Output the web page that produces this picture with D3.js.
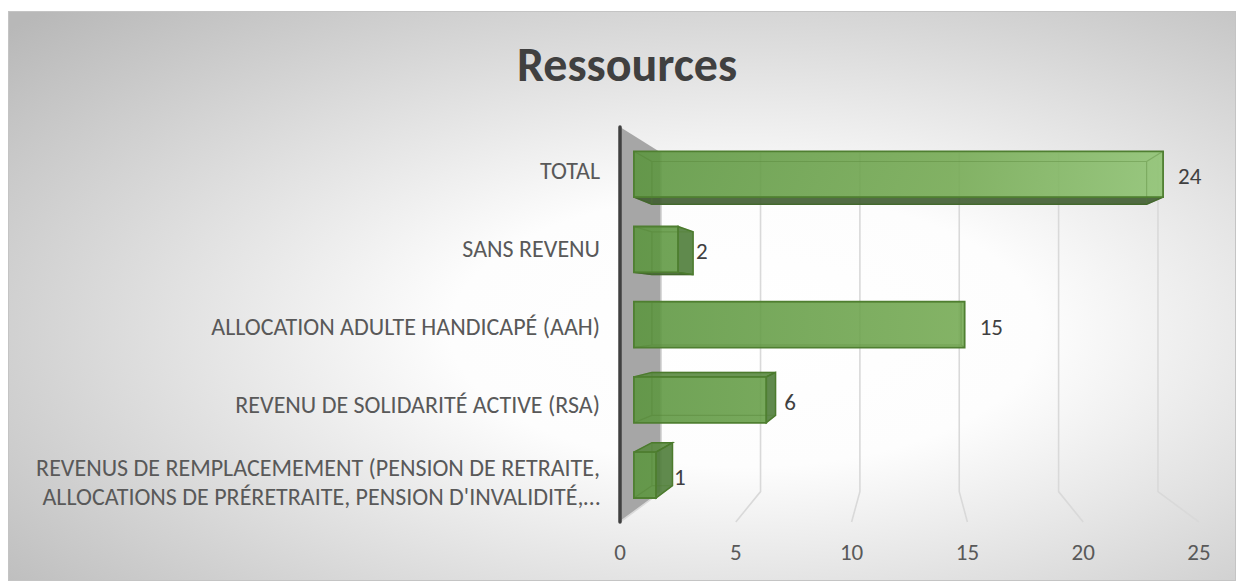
<!DOCTYPE html>
<html>
<head>
<meta charset="utf-8">
<script src="https://cdn.jsdelivr.net/npm/d3@7"></script>
<style>
  body { margin: 0; background: #fff; }
  svg { display: block; }
</style>
</head>
<body>
<div id="chart"></div>
<script>
// data
const categories = [
    ["TOTAL"],
    ["SANS REVENU"],
    ["ALLOCATION ADULTE HANDICAPÉ (AAH)"],
    ["REVENU DE SOLIDARITÉ ACTIVE (RSA)"],
    ["REVENUS DE REMPLACEMEMENT (PENSION DE RETRAITE,", "ALLOCATIONS DE PRÉRETRAITE, PENSION D'INVALIDITÉ,…"]
];
const values = [24, 2, 15, 6, 1];
const xTicks = [0, 5, 10, 15, 20, 25];
const title = "Ressources";

const W = 1236, H = 581;
const font = "Calibri, Carlito, Lato, sans-serif";

// perspective: vanishing point and scale factor of each depth plane
const vp = { x: 910, y: 308 };
const depth = { front: 1, barFront: 0.952, barBack: 0.89, back: 0.858 };
const plotTop = 127, plotBottom = 522;

function proj(px, py, s) {
    return [vp.x + (px - vp.x) * s, vp.y + (py - vp.y) * s];
}
function poly(pts) {
    return "M" + pts.map(p => p[0].toFixed(2) + "," + p[1].toFixed(2)).join("L") + "Z";
}

const svg = d3.select("#chart").append("svg")
    .attr("width", W)
    .attr("height", H);

const defs = svg.append("defs");

const bg = defs.append("radialGradient")
    .attr("id", "bg")
    .attr("cx", 0.6).attr("cy", 0.56).attr("r", 0.8);
bg.append("stop").attr("offset", 0).attr("stop-color", "#ffffff");
bg.append("stop").attr("offset", 0.3).attr("stop-color", "#fdfdfd");
bg.append("stop").attr("offset", 1).attr("stop-color", "#b8b8b8");

const x = d3.scaleLinear().domain([0, 25]).range([620, 1199]);
const y = d3.scaleBand()
    .domain(d3.range(categories.length))
    .range([plotTop + 1, plotBottom + 1])
    .paddingInner(0.39)
    .paddingOuter(0.195);

const barGrad = defs.append("linearGradient")
    .attr("id", "barGrad")
    .attr("gradientUnits", "userSpaceOnUse")
    .attr("x1", proj(x(0), 0, depth.barFront)[0]).attr("x2", proj(x(25), 0, depth.barFront)[0] - 25)
    .attr("y1", 0).attr("y2", 0);
barGrad.append("stop").attr("offset", 0).attr("stop-color", "#5b953e");
barGrad.append("stop").attr("offset", 0.6).attr("stop-color", "#72a850");
barGrad.append("stop").attr("offset", 1).attr("stop-color", "#8dc270");

// chart area
svg.append("rect")
    .attr("x", 8.5).attr("y", 11.5)
    .attr("width", W - 9).attr("height", H - 12)
    .attr("fill", "url(#bg)")
    .attr("stroke", "#c4c4c4");

svg.append("text")
    .attr("x", 627).attr("y", 81)
    .attr("text-anchor", "middle")
    .attr("font-family", font)
    .attr("font-weight", "bold")
    .attr("font-size", 48)
    .attr("fill", "#404040")
    .text(title);

// side wall at x = 0
svg.append("path")
    .attr("d", poly([
        proj(x(0), plotTop, depth.front),
        proj(x(0), plotTop, depth.back),
        proj(x(0), plotBottom, depth.back),
        proj(x(0), plotBottom, depth.front)
    ]))
    .attr("fill", "#a6a6a6");

// gridlines on back wall + floor
svg.append("g").selectAll("path")
    .data(xTicks)
    .join("path")
    .attr("d", t => {
        const a = proj(x(t), plotTop, depth.back);
        const b = proj(x(t), plotBottom, depth.back);
        const c = proj(x(t), plotBottom, depth.front);
        return "M" + a + "L" + b + "L" + c;
    })
    .attr("fill", "none")
    .attr("stroke", "#d9d9d9")
    .attr("stroke-width", 1.6);

svg.append("line")
    .attr("x1", x(0)).attr("x2", x(0))
    .attr("y1", plotTop).attr("y2", plotBottom)
    .attr("stroke", "#404040")
    .attr("stroke-width", 3.5)
    .attr("stroke-linecap", "round");

// bars as boxes
const bars = svg.append("g");
values.forEach((v, i) => {
    const x0 = x(0), x1 = x(v);
    const y0 = y(i), y1 = y(i) + y.bandwidth();
    const f = [proj(x0, y0, depth.barFront), proj(x1, y0, depth.barFront),
               proj(x1, y1, depth.barFront), proj(x0, y1, depth.barFront)];
    const b = [proj(x0, y0, depth.barBack), proj(x1, y0, depth.barBack),
               proj(x1, y1, depth.barBack), proj(x0, y1, depth.barBack)];
    const g = bars.append("g");

    if (y1 < vp.y) {
        g.append("path").attr("d", poly([f[3], f[2], b[2], b[3]]))
            .attr("fill", "#3f5c30").attr("fill-opacity", 0.9)
            .attr("stroke", "#3d5e2a").attr("stroke-width", 1.2);
    }
    if (y0 > vp.y) {
        g.append("path").attr("d", poly([f[0], f[1], b[1], b[0]]))
            .attr("fill", "#5a8a40").attr("fill-opacity", 0.9)
            .attr("stroke", "#4a7a2c").attr("stroke-width", 1.4);
    }
    if (x1 < vp.x) {
        g.append("path").attr("d", poly([f[1], b[1], b[2], f[2]]))
            .attr("fill", "#4f7d3a").attr("fill-opacity", 0.9)
            .attr("stroke", "#4a7a2c").attr("stroke-width", 1.4);
    }
    g.append("path").attr("d", poly(f))
        .attr("fill", "url(#barGrad)").attr("fill-opacity", 0.88)
        .attr("stroke", "#4f7f31").attr("stroke-width", 1.8);
    // back edges seen through the box
    g.append("path")
        .attr("d", poly(b) + "M" + f[0] + "L" + b[0] + "M" + f[1] + "L" + b[1] +
                   "M" + f[2] + "L" + b[2] + "M" + f[3] + "L" + b[3])
        .attr("fill", "none")
        .attr("stroke", "#4f7f31").attr("stroke-opacity", 0.35)
        .attr("stroke-width", 1.2);

    const yc = proj(x1, y0 + y.bandwidth() / 2, depth.barFront);
    g.append("text")
        .attr("x", yc[0] + (x1 < vp.x ? 18 : 15)).attr("y", yc[1] + 2)
        .attr("dominant-baseline", "central")
        .attr("font-family", font).attr("font-size", 23)
        .attr("fill", "#404040")
        .text(v);
});

// category labels
svg.append("g").selectAll("text")
    .data(categories)
    .join("text")
    .attr("text-anchor", "end")
    .attr("font-family", font)
    .attr("font-size", 24)
    .attr("fill", "#595959")
    .each(function (lines, i) {
        const c = y(i) + y.bandwidth() / 2;
        const yc = vp.y + (c - vp.y) * 0.986 + 1;
        const lh = 29.5;
        d3.select(this).selectAll("tspan")
            .data(lines)
            .join("tspan")
            .attr("x", 600)
            .attr("y", (d, k) => yc + (k - (lines.length - 1) / 2) * lh)
            .attr("dominant-baseline", "central")
            .text(d => d);
    });

// value axis labels
svg.append("g").selectAll("text")
    .data(xTicks)
    .join("text")
    .attr("x", d => x(d))
    .attr("y", 552)
    .attr("text-anchor", "middle")
    .attr("dominant-baseline", "central")
    .attr("font-family", font)
    .attr("font-size", 23)
    .attr("fill", "#595959")
    .text(d => d);
</script>
</body>
</html>
